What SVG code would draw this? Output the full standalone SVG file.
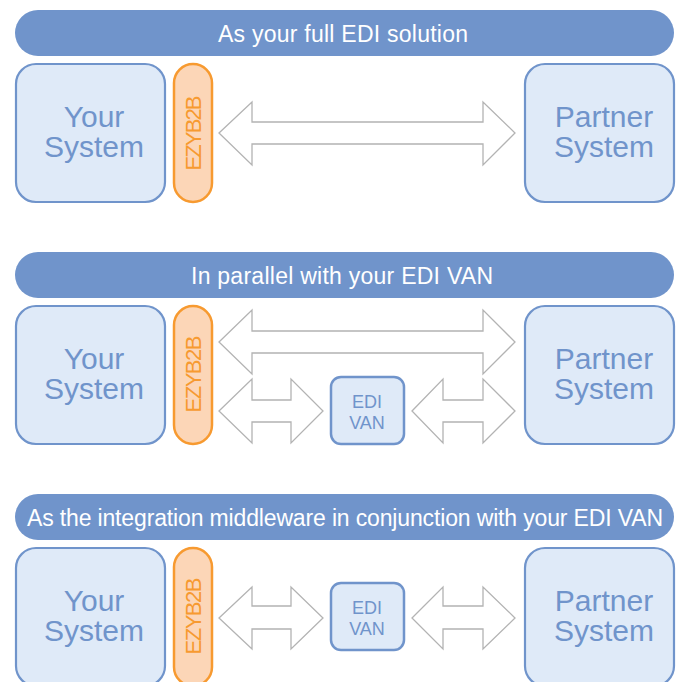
<svg xmlns="http://www.w3.org/2000/svg" width="681" height="682" viewBox="0 0 681 682">
<style>
.banner{fill:#7094cb}
.btxt{fill:#ffffff;font-family:"Liberation Sans",Arial,sans-serif;font-size:23px;text-anchor:middle}
.sys{fill:#dfeaf8;stroke:#7094cb;stroke-width:2.2}
.stxt{fill:#7094cb;font-family:"Liberation Sans",Arial,sans-serif;font-size:30px;text-anchor:middle}
.ezy{fill:#fcd6b7;stroke:#f79a30;stroke-width:2.5}
.etxt{fill:#f79a30;font-family:"Liberation Sans",Arial,sans-serif;font-size:22px;text-anchor:middle}
.van{fill:#dfeaf8;stroke:#7094cb;stroke-width:2.5}
.vtxt{fill:#7094cb;font-family:"Liberation Sans",Arial,sans-serif;font-size:18px;text-anchor:middle}
.arr{fill:#ffffff;stroke:#b3b3b3;stroke-width:1.3;stroke-linejoin:miter}
</style>
<rect width="681" height="682" fill="#ffffff"/>

<!-- Row 1 -->
<g id="banner1"><rect class="banner" x="15" y="10" width="659" height="46" rx="23"/><text class="btxt" x="343" y="42" textLength="250">As your full EDI solution</text></g>
<g id="your1"><rect class="sys" x="16" y="64" width="149" height="138" rx="20"/><text class="stxt" x="94" y="127">Your</text><text class="stxt" x="94" y="157">System</text></g>
<g id="ezyb2b1"><rect class="ezy" x="174" y="64" width="38" height="138" rx="19"/><text class="etxt" transform="translate(201,133) rotate(-90)" textLength="75">EZYB2B</text></g>
<g id="partner1"><rect class="sys" x="525" y="64" width="149" height="138" rx="20"/><text class="stxt" x="604" y="127">Partner</text><text class="stxt" x="604" y="157">System</text></g>

<!-- Row 2 -->
<g id="banner2"><rect class="banner" x="15" y="252" width="659" height="46" rx="23"/><text class="btxt" x="342" y="284" textLength="302">In parallel with your EDI VAN</text></g>
<g id="your2"><rect class="sys" x="16" y="306" width="149" height="138" rx="20"/><text class="stxt" x="94" y="369">Your</text><text class="stxt" x="94" y="399">System</text></g>
<g id="ezyb2b2"><rect class="ezy" x="174" y="306" width="38" height="138" rx="19"/><text class="etxt" transform="translate(201,374) rotate(-90)" textLength="77">EZYB2B</text></g>
<g id="van2"><rect class="van" x="331" y="377" width="73" height="67" rx="10"/><text class="vtxt" x="367" y="408">EDI</text><text class="vtxt" x="367" y="429">VAN</text></g>
<g id="partner2"><rect class="sys" x="525" y="306" width="149" height="138" rx="20"/><text class="stxt" x="604" y="369">Partner</text><text class="stxt" x="604" y="399">System</text></g>

<!-- Row 3 -->
<g id="banner3"><rect class="banner" x="15" y="494" width="659" height="46" rx="23"/><text class="btxt" x="345" y="526" textLength="636">As the integration middleware in conjunction with your EDI VAN</text></g>
<g id="your3"><rect class="sys" x="16" y="548" width="149" height="138" rx="20"/><text class="stxt" x="94" y="611">Your</text><text class="stxt" x="94" y="641">System</text></g>
<g id="ezyb2b3"><rect class="ezy" x="174" y="548" width="38" height="138" rx="19"/><text class="etxt" transform="translate(201,616) rotate(-90)" textLength="77">EZYB2B</text></g>
<g id="van3"><rect class="van" x="331" y="583" width="73" height="67" rx="10"/><text class="vtxt" x="367" y="614">EDI</text><text class="vtxt" x="367" y="635">VAN</text></g>
<g id="partner3"><rect class="sys" x="525" y="548" width="149" height="138" rx="20"/><text class="stxt" x="604" y="611">Partner</text><text class="stxt" x="604" y="641">System</text></g>

<!-- Connectors -->
<g id="connectors">
<polygon class="arr" points="219,133 252,102 252,122 483,122 483,102 515,133 483,165 483,144 252,144 252,165"/>
<polygon class="arr" points="219,342 252,310 252,331 483,331 483,310 515,342 483,374 483,353 252,353 252,374"/>
<polygon class="arr" points="219,411 252,379 252,400 291,400 291,379 323,411 291,443 291,422 252,422 252,443"/>
<polygon class="arr" points="412,411 443,379 443,400 483,400 483,379 515,411 483,443 483,422 443,422 443,443"/>
<polygon class="arr" points="219,618 252,587 252,606 291,606 291,587 323,618 291,649 291,629 252,629 252,649"/>
<polygon class="arr" points="412,618 443,587 443,606 483,606 483,587 515,618 483,649 483,629 443,629 443,649"/>
</g>
</svg>
